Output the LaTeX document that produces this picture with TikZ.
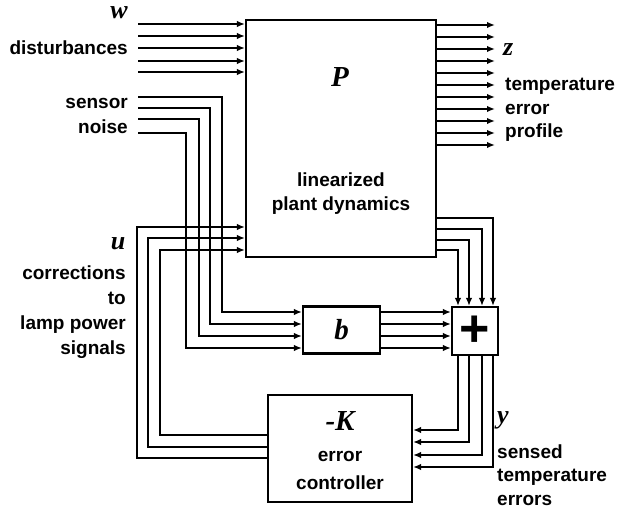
\documentclass[tikz,border=0pt]{standalone}
\usepackage{fontspec}
\setmainfont{Liberation Sans}
\newfontfamily\mserif{Liberation Serif}
\usetikzlibrary{arrows.meta}
\newcommand\tf{\fontsize{19}{24}\selectfont\bfseries}
\newcommand\tfs[1]{\fontsize{19}{#1}\selectfont\bfseries}
\newcommand\mvar[1]{{\mserif\fontsize{26}{26}\selectfont\bfseries\itshape #1}}
\newcommand\mbig[1]{{\mserif\fontsize{29}{29}\selectfont\bfseries\itshape #1}}
\begin{document}
\begin{tikzpicture}[x=1pt,y=-1pt,
  wire/.style={line width=2.1pt},
  arr/.style={wire,-{Latex[length=8pt,width=6.5pt]}},
  box/.style={draw,line width=2.1pt,inner sep=0pt,fill=white},
  lbl/.style={inner sep=0pt,font=\tf}]
\useasboundingbox (0,0) rectangle (621,518);
% blocks
\node[box,minimum width=190pt,minimum height=237pt] (P) at (341,138.5) {};
\node[box,minimum width=77pt,minimum height=47pt] (b) at (341.5,330) {\mbig{b}};
\node[box,minimum width=46pt,minimum height=48pt] (plus) at (475,331) {\fontsize{52}{52}\selectfont\bfseries +};
\node[box,minimum width=144pt,minimum height=107pt] (K) at (340,448.5) {};
% labels inside blocks
\node[inner sep=0pt] (Plbl) at (340,77) {\mbig{P}};
\node[lbl,align=center] (Ptxt) at (341,194) {linearized\\plant dynamics};
\node[inner sep=0pt] (Klbl) at (340,421) {\mbig{-K}};
\node[lbl,align=center,font={\tfs{28pt}}] (Ktxt) at (340,470) {error\\controller};
% outside labels
\node[inner sep=0pt] (wl) at (119,13) {\mvar{w}};
\node[lbl,anchor=east] (wt) at (128,48) {disturbances};
\node[lbl,anchor=east,align=right,font={\tfs{25pt}}] (nt) at (128,116) {sensor\\noise};
\node[inner sep=0pt] (ul) at (118,244) {\mvar{u}};
\node[lbl,anchor=east,align=right,font={\tfs{25pt}}] (ut) at (126,312) {corrections\\to\\lamp power\\signals};
\node[inner sep=0pt,anchor=west] (zl) at (503,50) {\mvar{z}};
\node[lbl,anchor=west,align=left,font={\tfs{23.5pt}}] (zt) at (505,110) {temperature\\error\\profile};
\node[inner sep=0pt,anchor=west] (yl) at (497,420) {\mvar{y}};
\node[lbl,anchor=west,align=left,font={\tfs{23.5pt}}] (yt) at (497,475) {sensed\\temperature\\errors};
% w inputs
\foreach \yy [count=\i] in {24,36,48,61,72} {
  \coordinate (w\i) at (138,\yy);
  \draw[arr] (w\i) -- (w\i -| P.west);
}
% z outputs
\foreach \i in {0,...,10} {
  \pgfmathsetmacro\yy{25+12*\i}
  \coordinate (z\i) at (495,\yy);
  \draw[arr] (z\i -| P.east) -- (z\i);
}
% sensor noise into b
\foreach \yy/\xx/\s [count=\i] in {97/222/18,108/210/6,119/199/-6,133/186/-18} {
  \coordinate (n\i) at (138,\yy);
  \path ([yshift=\s pt]b.west) coordinate (bi\i);
  \pgfmathsetmacro\tt{330-\s}
  \draw[arr] (n\i) -| (\xx,\tt) -- (bi\i);
}
% b to plus
\foreach \s in {18,6,-6,-18} {
  \draw[arr] ([yshift=\s pt]b.east) coordinate (bo) -- (bo -| plus.west);
}
% P to plus
\foreach \s/\xs in {-79.5/18,-90.5/7,-101.5/-6,-111.5/-17} {
  \draw[arr] ([yshift=\s pt]P.east) -| ([xshift=\xs pt]plus.north);
}
% plus to K
\foreach \xs/\s in {-17/18.5,-6/6.5,7/-6.5,18/-18.5} {
  \draw[arr] ([xshift=\xs pt]plus.south) |- ([yshift=\s pt]K.east);
}
% K to P (u)
\foreach \s/\xx/\ps in {13.5/160/-111.5,1.5/148/-99.5,-9.5/137/-88.5} {
  \path ([yshift=\ps pt]P.west) coordinate (pu);
  \pgfmathsetmacro\tt{138.5-\ps}
  \draw[arr] ([yshift=\s pt]K.west) -| (\xx,\tt) -- (pu);
}
\end{tikzpicture}
\end{document}
